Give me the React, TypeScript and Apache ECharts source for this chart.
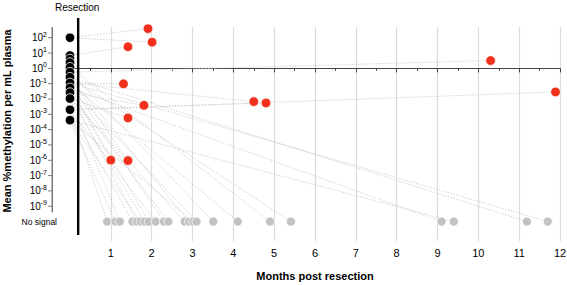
import React, { useEffect, useRef } from "react";
import * as echarts from "echarts";

// log10 of mean %methylation at resection (month 0)
const baselineValues = [2.0, 0.84, 0.61, 0.38, 0.07, -0.25, -0.58, -0.95, -1.27, -1.58, -1.97, -2.7, -3.38];
// follow-up samples with detectable signal
const detectedMonths = [1.0, 1.31, 1.42, 1.42, 1.42, 1.81, 1.91, 2.01, 4.5, 4.8, 10.3, 11.89];
const detectedValues = [-5.99, -1.01, 1.41, -3.24, -6.02, -2.41, 2.59, 1.71, -2.17, -2.26, 0.51, -1.54];
const detectedFrom = [8, 7, 1, 10, 6, 9, 0, 0, 7, 11, 5, 11];
// follow-up samples with no signal
const noSignalMonths = [0.91, 1.11, 1.22, 1.53, 1.64, 1.73, 1.83, 1.93, 2.1, 2.3, 2.41, 2.81, 2.92, 3.02, 3.1, 3.51, 4.11, 4.9, 5.41, 9.1, 9.4, 11.19, 11.7];
const noSignalFrom = [11, 12, 10, 11, 9, 12, 10, 8, 11, 7, 9, 10, 6, 12, 8, 5, 7, 4, 6, 8, 12, 6, 7];
const NO_SIGNAL = -10;
const yTickExponents = [-9, -8, -7, -6, -5, -4, -3, -2, -1, 0, 1, 2];
const resectionMonth = 0.2;

export default function App() {
  const ref = useRef<HTMLDivElement>(null);
  useEffect(() => {
    document.body.style.margin = "0";
    const chart = echarts.init(ref.current!, undefined, { renderer: "svg" });

    const links: any[] = [];
    detectedMonths.forEach((m, i) => {
      links.push([0, baselineValues[detectedFrom[i]]]);
      links.push([m, detectedValues[i]]);
      links.push(null);
    });
    noSignalMonths.forEach((m, i) => {
      links.push([0, baselineValues[noSignalFrom[i]]]);
      links.push([m, NO_SIGNAL]);
      links.push(null);
    });

    const yMin = -11.27;
    const yMax = 2.7;
    const yAxisLineBottom = -9.4;
    const font = "Liberation Sans, Arial, Helvetica, sans-serif";

    chart.setOption({
      animation: false,
      textStyle: { fontFamily: font },
      grid: { left: 70, right: 7, top: 27, bottom: 44, containLabel: false, outerBoundsMode: "none" },
      xAxis: {
        type: "value",
        min: 0,
        max: 12,
        interval: 1,
        name: "Months post resection",
        nameLocation: "middle",
        nameGap: 29,
        nameTextStyle: { fontSize: 11, fontWeight: "bold", color: "#000", fontFamily: font },
        axisLine: { show: true, lineStyle: { color: "#444", width: 1 } },
        axisTick: { show: true, length: 4, lineStyle: { color: "#444" } },
        minorTick: { show: true, splitNumber: 2, length: 2.5, lineStyle: { color: "#444" } },
        axisLabel: {
          fontSize: 11,
          color: "#000",
          margin: 6,
          fontFamily: font,
          formatter: (v: number) => (v === 0 ? "" : String(v)),
        },
        splitLine: { show: true, showMinLine: false, lineStyle: { color: "#dcdcdc", width: 1.2 } },
      },
      yAxis: [
        {
          type: "value",
          min: yMin,
          max: yMax,
          position: "left",
          offset: 18,
          name: "Mean %methylation per mL plasma",
          nameLocation: "middle",
          nameGap: 40,
          nameRotate: 90,
          nameTextStyle: {
            fontSize: 11,
            fontWeight: "bold",
            color: "#000",
            fontFamily: font,
            padding: [0, 0, 0, 26],
          },
          axisLine: { show: false },
          axisTick: { show: false },
          splitLine: { show: false },
          axisLabel: {
            customValues: yTickExponents,
            margin: 5,
            formatter: (v: number) => `{b|10}{s|${v}}`,
            rich: {
              b: { fontSize: 10, color: "#000", fontFamily: font },
              s: { fontSize: 7, color: "#000", fontFamily: font, padding: [0, 0, 7, 0] },
            },
          },
        },
        {
          type: "value",
          min: yMin,
          max: yMax,
          position: "left",
          offset: 13,
          axisLine: { show: false },
          axisTick: { show: false },
          splitLine: { show: false },
          axisLabel: {
            customValues: [NO_SIGNAL],
            margin: 0,
            fontSize: 8.5,
            color: "#000",
            fontFamily: font,
            formatter: () => "No signal",
          },
        },
      ],
      series: [
        {
          type: "line",
          data: links,
          connectNulls: false,
          showSymbol: false,
          symbol: "none",
          silent: true,
          z: 1,
          lineStyle: { color: "#c8c8c8", width: 0.8, type: [1.5, 1.5] },
        },
        {
          type: "scatter",
          data: baselineValues.map((v) => [0, v]),
          symbolSize: 9.5,
          z: 3,
          itemStyle: { color: "#000", borderColor: "#fff", borderWidth: 0.8, opacity: 1 },
        },
        {
          type: "scatter",
          data: noSignalMonths.map((m) => [m, NO_SIGNAL]),
          symbolSize: 9,
          z: 3,
          itemStyle: { color: "#c2c2c2", borderColor: "#fff", borderWidth: 0.8, opacity: 1 },
        },
        {
          type: "scatter",
          data: detectedMonths.map((m, i) => [m, detectedValues[i]]),
          symbolSize: 9.5,
          z: 3,
          itemStyle: { color: "#f0301c", borderColor: "#fff", borderWidth: 0.6, opacity: 1 },
        },
      ],
    });

    const x0 = chart.convertToPixel({ xAxisIndex: 0 }, 0) as number;
    const ax = Math.round(x0 - 18);
    const yTop = chart.convertToPixel({ yAxisIndex: 0 }, yMax) as number;
    const yBottom = chart.convertToPixel({ yAxisIndex: 0 }, yAxisLineBottom) as number;
    const xr = chart.convertToPixel({ xAxisIndex: 0 }, resectionMonth) as number;
    const rTop = chart.convertToPixel({ yAxisIndex: 0 }, 3.29) as number;
    const rBottom = chart.convertToPixel({ yAxisIndex: 0 }, -10.88) as number;

    const tickRect = (v: number) => {
      const y = chart.convertToPixel({ yAxisIndex: 0 }, v) as number;
      return {
        type: "rect",
        shape: { x: ax - 4, y: y - 0.5, width: 4, height: 1 },
        style: { fill: "#7a7a7a" },
        z: 20,
      };
    };

    chart.setOption({
      graphic: {
        elements: [
          {
            type: "rect",
            shape: { x: ax - 0.5, y: yTop, width: 1.5, height: yBottom - yTop },
            style: { fill: "#7a7a7a" },
            z: 20,
          },
          ...yTickExponents.map(tickRect),
          {
            type: "rect",
            shape: { x: xr - 1.2, y: rTop, width: 2.4, height: rBottom - rTop },
            style: { fill: "#000" },
            z: 20,
          },
          {
            type: "text",
            x: xr - 1,
            y: 7,
            style: {
              text: "Resection",
              fontSize: 10,
              fontFamily: font,
              fill: "#000",
              align: "center",
              verticalAlign: "middle",
            },
            z: 20,
          },
        ],
      },
    });

    return () => chart.dispose();
  }, []);
  return <div ref={ref} style={{ width: 567, height: 285 }} />;
}
